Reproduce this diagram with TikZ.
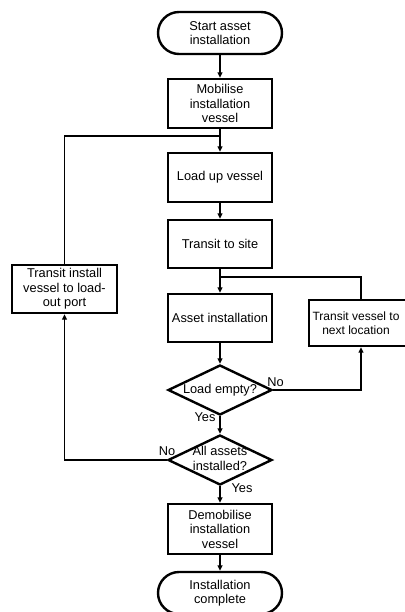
\documentclass[tikz,border=0pt]{standalone}
\usepackage{fontspec}
\setmainfont{Liberation Sans}
\usetikzlibrary{shapes.geometric,arrows.meta}
\tikzset{
  base/.style={draw=black, line width=2.4pt, align=center, inner sep=0pt,
    font=\fontsize{12.8pt}{14.5pt}\selectfont},
  procbox/.style={base, rectangle, minimum width=104pt, minimum height=48pt},
  termbox/.style={base, rectangle, rounded corners=21pt, minimum width=124pt, minimum height=42pt},
  decbox/.style={base, diamond, minimum width=104pt, minimum height=50pt},
  conn/.style={line width=1.8pt, draw=black},
  arr/.style={conn, -{Triangle[length=5.5pt,width=5pt]}},
  lbl/.style={font=\fontsize{12.8pt}{14.5pt}\selectfont, inner sep=0pt}
}
\begin{document}
\begin{tikzpicture}[x=1pt,y=-1pt]
\useasboundingbox (0,0) rectangle (404,612);
\node[termbox] (start) at (220,33) {Start asset\\installation};
\node[procbox, minimum height=49pt] (mob) at (220,103.5) {Mobilise\\installation\\vessel};
\node[procbox, minimum height=49pt] (load) at (220,177.5) {Load up vessel};
\node[procbox] (transit) at (220,244) {Transit to site};
\node[procbox] (asset) at (220,318) {Asset installation};
\node[procbox, minimum width=105pt] (back) at (64.5,289) {Transit install\\vessel to load-\\out port};
\node[procbox, minimum height=46pt, font=\fontsize{12pt}{14.5pt}\selectfont] (next) at (361,323)
  {\hspace*{-10pt}Transit vessel to\\\hspace*{-10pt}next location};
\node[decbox] (empty) at (220,390) {\makebox[0pt]{Load empty?}};
\node[decbox] (all) at (220,460) {\makebox[0pt]{\begin{tabular}{@{}c@{}}All assets\\installed?\end{tabular}}};
\node[procbox, minimum height=50pt] (demob) at (220,529) {Demobilise\\installation\\vessel};
\node[termbox] (done) at (220,593) {Installation\\complete};

\coordinate (j1) at (220,136);
\coordinate (j2) at (220,277);

\draw[arr] (start) -- (mob);
\draw[arr] (mob) -- (load);
\draw[conn] (back.north) |- (j1);
\draw[arr] (load) -- (transit);
\draw[arr] (transit) -- (asset);
\draw[conn] (next.north) |- (j2);
\draw[arr] (asset) -- (empty);
\draw[arr] (empty.east) -| (next.south);
\draw[arr] (empty) -- (all);
\draw[arr] (all.west) -| (back.south);
\draw[arr] (all) -- (demob);
\draw[arr] (demob) -- (done);

\node[lbl] (no1) at (275.5,382) {No};
\node[lbl] (yes1) at (205,417) {Yes};
\node[lbl] (no2) at (167,451) {No};
\node[lbl] (yes2) at (242,488) {Yes};
\end{tikzpicture}
\end{document}
